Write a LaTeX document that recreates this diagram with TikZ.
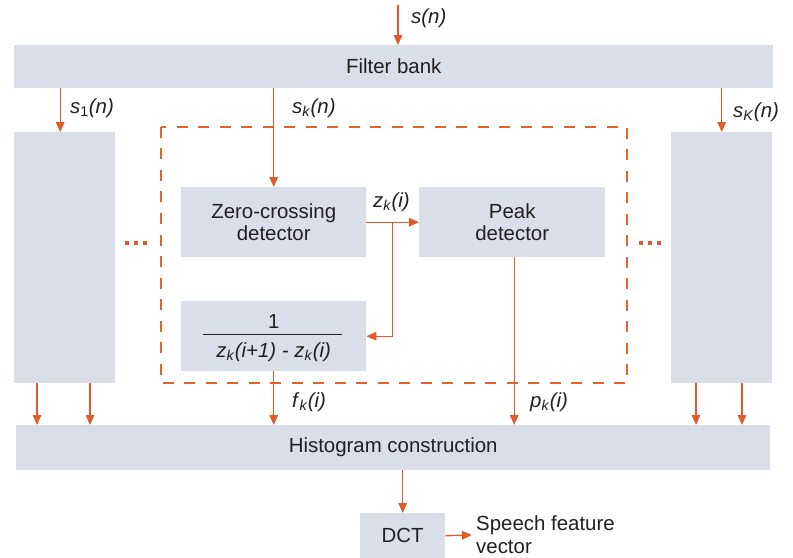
\documentclass[tikz,border=0pt]{standalone}
\usepackage{fontspec}
\setmainfont{Liberation Sans}
\usetikzlibrary{arrows.meta,calc}
\definecolor{boxfill}{HTML}{D9DEE8}
\definecolor{org}{HTML}{E2592A}
\definecolor{dashorg}{HTML}{E2652F}
\definecolor{txt}{HTML}{231F20}
\newcommand{\lab}[3]{\textit{#1}\textsubscript{#2}\textit{#3}}
\begin{document}
\begin{tikzpicture}[x=1bp,y=-1bp,
  box/.style={fill=boxfill, draw=none, inner sep=0pt, text=txt, align=center,
    font=\fontsize{20.5}{23}\selectfont, anchor=north west},
  arr/.style={draw=org, line width=1.4pt, -{Triangle[length=10pt,width=8.5pt]}},
  lbl/.style={text=txt, inner sep=0pt, anchor=west, font=\fontsize{20.5}{23}\selectfont},
  dashbox/.style={draw=dashorg, line width=2bp, dash pattern=on 11bp off 10.5bp},
  dotsq/.style={fill=org}]
\useasboundingbox (0,0) rectangle (793,558);
% boxes
\node[box, minimum width=759bp, minimum height=43bp] (fb) at (14,45) {Filter bank};
\node[box, minimum width=101bp, minimum height=251bp] (L) at (14,132) {};
\node[box, minimum width=101bp, minimum height=251bp] (R) at (671,132) {};
\node[inner sep=0pt, minimum width=466bp, minimum height=256bp, anchor=north west] (dsh) at (161,127) {};
\draw[dashbox] (dsh.north west) rectangle (dsh.south east);
\node[box, minimum width=185bp, minimum height=70bp] (zc) at (181,187) {Zero-crossing\\detector};
\node[box, minimum width=186bp, minimum height=70bp] (pk) at (419,187) {Peak\\detector};
\node[box, minimum width=185bp, minimum height=70bp] (fr) at (181,301) {};
\node[box, minimum width=754bp, minimum height=45bp] (hist) at (16,425) {Histogram construction};
\node[box, minimum width=85bp, minimum height=45bp] (dct) at (360,513) {DCT};
% fraction
\node[lbl, anchor=center] (num) at ($(fr.center)+(0,-15)$) {1};
\draw[txt, line width=0.9pt] ($(fr.west)+(22,-2)$) -- ($(fr.east)+(-24,-2)$);
\node[lbl, anchor=center] (den) at ($(fr.center)+(0,16)$) {\lab{z}{\textit{k}}{(i+1) - z}\textsubscript{\textit{k}}\textit{(i)}};
% input
\coordinate (sin) at (398,5);
\draw[arr] (sin) -- (sin |- fb.north);
\node[lbl] (lsn) at (411,18) {\textit{s(n)}};
% outputs of filter bank
\draw[arr] ([xshift=-4.5bp]L.north |- fb.south) -- ([xshift=-4.5bp]L.north);
\node[lbl] (ls1) at (70,108) {\lab{s}{1}{(n)}};
\draw[arr] (fb.south -| zc.north) -- (zc.north);
\node[lbl] (lsk) at (292,108) {\lab{s}{\textit{k}}{(n)}};
\draw[arr] (R.north |- fb.south) -- (R.north);
\node[lbl] (lsK) at (733,112) {\lab{s}{\textit{K}}{(n)}};
% inner connections
\draw[arr] (zc.east) -- (pk.west);
\node[lbl] (lzk) at (373,202) {\lab{z}{\textit{k}}{(i)}};
\coordinate (br) at ($(zc.east)+(26,0)$);
\draw[arr] (br) -- (br |- fr.east) -- (fr.east);
\draw[arr] (fr.south) -- (fr.south |- hist.north);
\node[lbl] (lfk) at (292,402) {\lab{f}{\textit{k}}{(i)}};
\draw[arr] ([xshift=2bp]pk.south) -- ([xshift=2bp]pk.south |- hist.north);
\node[lbl] (lpk) at (530,402) {\lab{p}{\textit{k}}{(i)}};
% side boxes to histogram
\draw[arr] ([xshift=23bp]L.south west) -- ([xshift=23bp]L.south west |- hist.north);
\draw[arr] ([xshift=76bp]L.south west) -- ([xshift=76bp]L.south west |- hist.north);
\draw[arr] ([xshift=25bp]R.south west) -- ([xshift=25bp]R.south west |- hist.north);
\draw[arr] ([xshift=71bp]R.south west) -- ([xshift=71bp]R.south west |- hist.north);
% histogram to DCT
\draw[arr] (hist.south -| dct.north) -- (dct.north);
\node[lbl, align=left] (sp) at (476,535) {Speech feature\\vector};
\draw[arr] (dct.east) -- ([xshift=-4bp]sp.west);
% dots
\foreach \x in {127,136,145,641,650,659}
  \fill[dotsq] (\x-1.8,241.5) rectangle (\x+1.8,245.1);
\end{tikzpicture}
\end{document}
